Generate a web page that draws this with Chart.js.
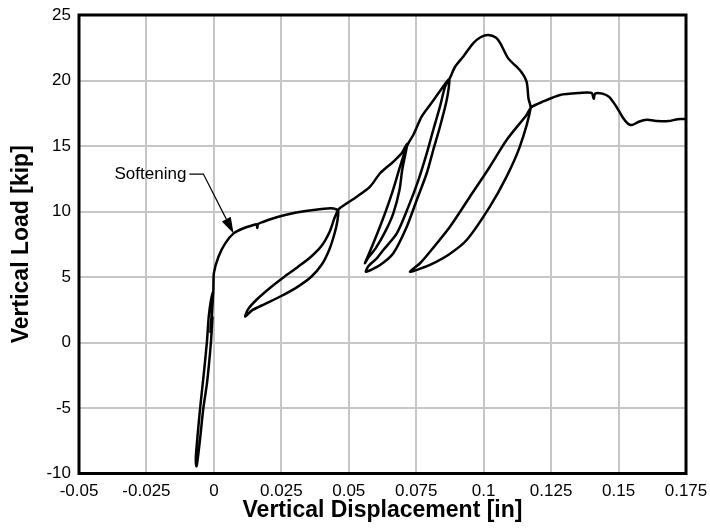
<!DOCTYPE html>
<html><head><meta charset="utf-8">
<script src="https://cdn.jsdelivr.net/npm/chart.js@4/dist/chart.umd.min.js"></script>
<style>html,body{margin:0;padding:0;background:#fff}#wrap{width:710px;height:529px}</style>
</head><body><div id="wrap"><canvas id="c" width="710" height="529"></canvas></div>
<script>
// Tick labels
const xTickValues = [-0.05, -0.025, 0, 0.025, 0.05, 0.075, 0.1, 0.125, 0.15, 0.175];
const xTickLabels = ['-0.05','-0.025','0','0.025','0.05','0.075','0.1','0.125','0.15','0.175'];
const yTickValues = [-10, -5, 0, 5, 10, 15, 20, 25];
const yTickLabels = ['-10','-5','0','5','10','15','20','25'];

// Load path segments: displacement [in] and load [kip]
const dispInitial = [-0.0005, -0.0011, -0.0025, -0.0039, -0.0052, -0.0062, -0.0065, -0.0067, -0.0060, -0.0051, -0.0038, -0.0026, -0.0019, -0.0011, -0.0004, -0.0008, -0.0013, -0.0008, -0.0002, 0.0000];
const loadInitial = [2.0, 0.0, -3.0, -5.0, -7.5, -9.2, -9.45, -8.8, -7.0, -5.0, -2.5, 0.0, 2.0, 3.2, 3.8, 2.2, 0.8, 2.0, 4.0, 5.3];

const dispEnvelope1 = [0.0017, 0.0042, 0.0073, 0.0110, 0.0147, 0.0158, 0.0161, 0.0164, 0.0184, 0.0221, 0.0264, 0.0301, 0.0369, 0.0431, 0.0455];
const loadEnvelope1 = [6.55, 7.57, 8.33, 8.72, 8.97, 9.02, 8.75, 9.05, 9.22, 9.48, 9.73, 9.90, 10.11, 10.24, 10.15];

const dispLoop1 = [0.0461, 0.0458, 0.0447, 0.0428, 0.0400, 0.0360, 0.0310, 0.0250, 0.0190, 0.0141, 0.0116, 0.0127, 0.0160, 0.0210, 0.0260, 0.0310, 0.0360, 0.0400, 0.0430, 0.0447, 0.0464];
const loadLoop1 = [10.0, 9.3, 8.3, 7.1, 5.95, 5.0, 4.25, 3.55, 2.95, 2.45, 1.97, 2.55, 3.3, 4.2, 5.0, 5.75, 6.55, 7.4, 8.5, 9.5, 10.2];

const dispEnvelope2 = [0.0493, 0.0530, 0.0579, 0.0616, 0.0665, 0.0696, 0.0717];
const loadEnvelope2 = [10.63, 11.13, 11.90, 12.92, 13.80, 14.44, 15.20];

const dispLoop2 = [0.0709, 0.0698, 0.0688, 0.0665, 0.0636, 0.0600, 0.0573, 0.0560, 0.0568, 0.0591, 0.0625, 0.0660, 0.0690, 0.0710, 0.0722];
const loadLoop2 = [14.31, 13.17, 11.64, 9.86, 8.50, 7.20, 6.50, 6.05, 6.45, 7.57, 9.35, 11.39, 13.42, 14.70, 15.25];

const dispEnvelope3 = [0.0739, 0.0770, 0.0801, 0.0832, 0.0863, 0.0873];
const loadEnvelope3 = [15.84, 17.24, 18.13, 19.02, 19.90, 20.10];

const dispLoop3 = [0.0863, 0.0838, 0.0813, 0.0789, 0.0752, 0.0715, 0.0665, 0.0616, 0.0564, 0.0573, 0.0605, 0.0628, 0.0678, 0.0721, 0.0758, 0.0789, 0.0813, 0.0838, 0.0857, 0.0875];
const loadLoop3 = [18.51, 16.47, 14.69, 12.92, 10.88, 8.84, 6.81, 5.92, 5.40, 5.84, 6.45, 7.06, 8.33, 10.37, 12.40, 14.44, 16.22, 18.00, 19.53, 20.20];

const dispEnvelope4 = [0.0894, 0.0924, 0.0961, 0.0990, 0.1017, 0.1045, 0.1062, 0.1091, 0.1134, 0.1159, 0.1166, 0.1174];
const loadEnvelope4 = [21.05, 21.82, 22.84, 23.32, 23.47, 23.28, 22.84, 21.69, 20.80, 19.91, 18.64, 17.88];

const dispLoop4 = [0.1134, 0.1085, 0.1023, 0.0937, 0.0870, 0.0801, 0.0760, 0.0727, 0.0764, 0.0801, 0.0875, 0.0949, 0.1023, 0.1085, 0.1159, 0.1176];
const loadLoop4 = [14.95, 12.66, 10.37, 7.82, 6.70, 5.92, 5.60, 5.40, 6.05, 6.93, 8.84, 11.13, 13.42, 15.46, 17.37, 17.95];

const dispTail = [0.1221, 0.1283, 0.1357, 0.1400, 0.1408, 0.1413, 0.1440, 0.1465, 0.1492, 0.1515, 0.1535, 0.1550, 0.1575, 0.1605, 0.1645, 0.1685, 0.1720, 0.1750];
const loadTail = [18.40, 18.90, 19.05, 19.05, 18.60, 19.00, 19.00, 18.75, 18.00, 17.20, 16.70, 16.60, 16.85, 17.00, 16.90, 16.90, 17.05, 17.05];

// Annotation
const annotationText = 'Softening';
const annotationTip = {x: 0.0073, y: 8.33};
const annotationElbow = {x: -0.0039, y: 12.86};

const segments = [
  [dispInitial, loadInitial], [dispEnvelope1, loadEnvelope1], [dispLoop1, loadLoop1],
  [dispEnvelope2, loadEnvelope2], [dispLoop2, loadLoop2], [dispEnvelope3, loadEnvelope3],
  [dispLoop3, loadLoop3], [dispEnvelope4, loadEnvelope4], [dispLoop4, loadLoop4], [dispTail, loadTail]
];
const points = [];
segments.forEach(([d, l]) => d.forEach((v, i) => points.push({x: v, y: l[i]})));

const FONT = "'Liberation Sans', Arial, Helvetica, sans-serif";
Chart.defaults.font.family = FONT;
Chart.defaults.color = '#000';

const framePlugin = {
  id: 'frame',
  afterDatasetsDraw(chart) {
    const ctx = chart.ctx, xs = chart.scales.x, ys = chart.scales.y, a = chart.chartArea;
    ctx.save();
    const tx = xs.getPixelForValue(annotationTip.x), ty = ys.getPixelForValue(annotationTip.y);
    const ex = xs.getPixelForValue(annotationElbow.x), ey = ys.getPixelForValue(annotationElbow.y);
    const dx = tx - ex, dy = ty - ey, len = Math.hypot(dx, dy);
    const ux = dx / len, uy = dy / len;
    const headLen = 16, headW = 5;
    const bx = tx - ux * headLen, by = ty - uy * headLen;
    ctx.strokeStyle = '#000'; ctx.lineWidth = 1.2;
    ctx.beginPath();
    ctx.moveTo(ex - 14, ey); ctx.lineTo(ex, ey); ctx.lineTo(bx, by);
    ctx.stroke();
    ctx.fillStyle = '#000';
    ctx.beginPath();
    ctx.moveTo(tx, ty);
    ctx.lineTo(bx - uy * headW, by + ux * headW);
    ctx.lineTo(bx + uy * headW, by - ux * headW);
    ctx.closePath(); ctx.fill();
    ctx.font = '17px ' + FONT;
    ctx.textAlign = 'right'; ctx.textBaseline = 'middle';
    ctx.fillText(annotationText, ex - 17, ey);
    ctx.lineWidth = 3; ctx.strokeStyle = '#000';
    ctx.strokeRect(a.left, a.top, a.right - a.left, a.bottom - a.top);
    ctx.restore();
  }
};

new Chart(document.getElementById('c'), {
  type: 'scatter',
  data: { datasets: [{
    data: points, showLine: true, borderColor: '#000', borderWidth: 2.5,
    pointRadius: 0, tension: 0.25, fill: false
  }]},
  options: {
    responsive: false, animation: false,
    layout: { padding: { top: 15, right: 24, left: 0, bottom: 0 } },
    plugins: { legend: { display: false }, tooltip: { enabled: false } },
    scales: {
      x: {
        type: 'linear', min: -0.05, max: 0.175,
        afterBuildTicks: s => { s.ticks = xTickValues.map(v => ({value: v})); },
        afterFit: s => { s.height = 55.5; s.paddingLeft = 0; s.paddingRight = 0; },
        ticks: { callback: (v, i) => xTickLabels[i], font: { size: 17 }, padding: 8, maxRotation: 0, autoSkip: false, color: '#000' },
        grid: { color: '#c6c6c6', lineWidth: 2, drawTicks: false },
        border: { display: false },
        title: { display: true, text: 'Vertical Displacement [in]', font: { size: 23, weight: 'bold' }, color: '#000', padding: { top: 0, bottom: 5 } }
      },
      y: {
        type: 'linear', min: -10, max: 25,
        afterBuildTicks: s => { s.ticks = yTickValues.map(v => ({value: v})); },
        afterFit: s => { s.width = 79; s.paddingTop = 0; s.paddingBottom = 0; },
        ticks: { callback: (v, i) => yTickLabels[i], font: { size: 17 }, padding: 8, autoSkip: false, color: '#000' },
        grid: { color: '#c6c6c6', lineWidth: 2, drawTicks: false },
        border: { display: false },
        title: { display: true, text: 'Vertical Load [kip]', font: { size: 23, weight: 'bold' }, color: '#000', padding: { top: 8, bottom: 0 } }
      }
    }
  },
  plugins: [framePlugin]
});
</script></body></html>
